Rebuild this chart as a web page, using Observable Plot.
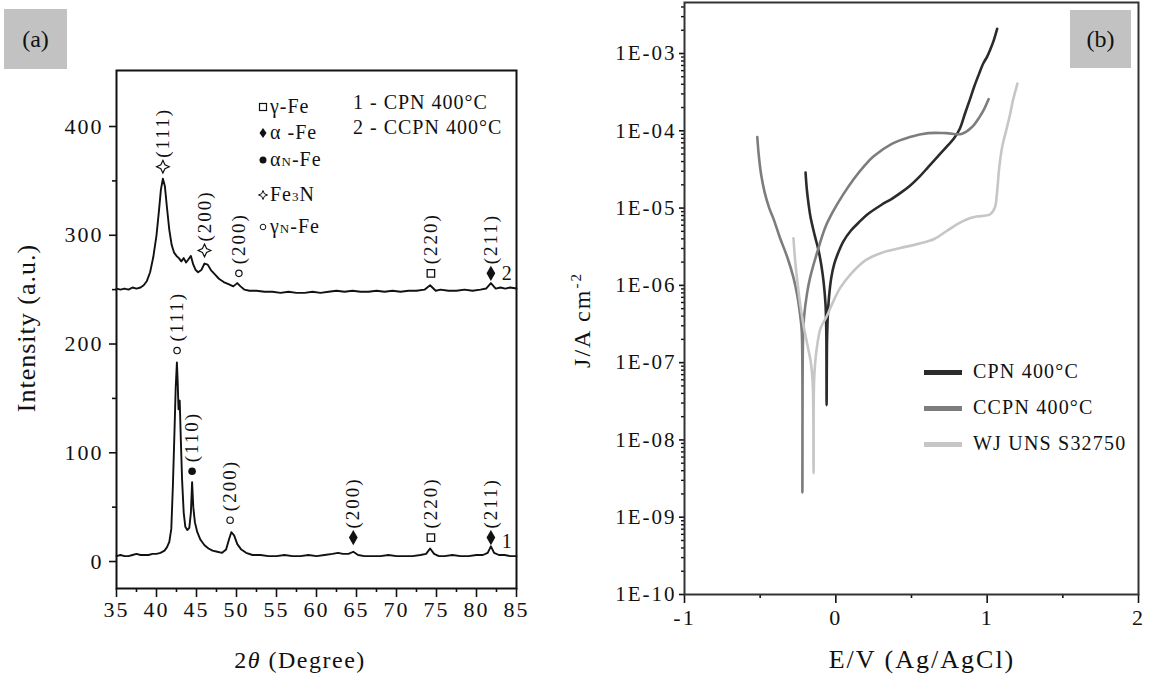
<!DOCTYPE html>
<html><head><meta charset="utf-8">
<script src="https://cdn.jsdelivr.net/npm/d3@7"></script>
<script src="https://cdn.jsdelivr.net/npm/@observablehq/plot@0.6"></script>
<style>
body{margin:0;background:#fff;width:1154px;height:676px;overflow:hidden;position:relative;font-family:"Liberation Serif","DejaVu Serif",serif;color:#111}
.abs{position:absolute;white-space:nowrap}
svg text{letter-spacing:2px}
.box{position:absolute;background:#c2c2c2;font-size:24px;display:flex;align-items:center;justify-content:center}
.rot{transform:translate(-50%,-50%) rotate(-90deg)}
.ctr{transform:translate(-50%,-50%)}
.leg{position:absolute;font-size:20px;line-height:20px;letter-spacing:1px;white-space:nowrap}
.sw{position:absolute;height:5px;width:38px}
</style></head><body>
<div id="a" class="abs" style="left:0;top:0"></div>
<div id="b" class="abs" style="left:540px;top:0"></div>
<script>
// ---------- Panel (a): XRD ----------
const theta2 = [35,35.5,36,36.5,37,37.5,38,38.4,38.8,39.2,39.6,40.0,40.3,40.55,40.8,41.05,41.3,41.6,41.9,42.2,42.5,42.8,43.1,43.4,43.7,44.0,44.3,44.6,44.9,45.2,45.6,46.0,46.4,46.8,47.3,47.8,48.4,49.0,49.6,50.1,50.5,51.0,51.6,52.5,53.5,54.5,55.5,56.5,57.5,58.5,59.5,60.5,61.5,62.5,63.5,64.5,65.5,66.5,67.5,68.5,69.5,70.5,71.5,72.5,73.5,74.2,74.9,75.5,76.5,77.5,78.5,79.5,80.5,81.2,81.8,82.4,83,83.6,84.2,85];
const intensityCCPN = [251,250,251,250,252,251,252,254,258,266,280,300,322,342,352,345,326,305,291,284,281,279,276,279,275,278,281,273,268,266,268,274,273,268,264,260,257,255,253,256,253,250,249,249,248,248,247,248,247,247,248,247,248,249,248,249,248,248,249,248,249,248,249,249,250,254,249,250,249,249,250,249,250,251,256,251,252,251,252,251];
const theta1 = [35,35.5,36,36.5,37,37.5,38,38.5,39,39.5,40,40.5,41,41.3,41.6,41.85,42.05,42.25,42.4,42.55,42.65,42.75,42.9,43.05,43.2,43.4,43.6,43.85,44.1,44.3,44.45,44.6,44.8,45.1,45.5,46,46.5,47,47.6,48.2,48.7,49.05,49.35,49.7,50.1,50.6,51.2,52,53,54,55,56,57,58,59,60,61,62,62.7,63.3,64,64.6,65.2,66,67,68,69,70,71,72,73,73.7,74.2,74.7,75.3,76,77,78,79,80,80.8,81.4,81.8,82.2,82.8,83.5,84.2,85];
const intensityCPN = [5,6,5,5,6,7,6,6,6,7,7,8,10,13,18,30,70,120,160,183,165,140,148,110,75,45,32,29,31,45,73,50,36,27,20,15,12,10,9,8,11,20,27,24,16,11,8,6,6,5,5,6,5,5,6,5,6,7,8,7,7,9,6,5,5,5,6,5,5,5,6,7,12,7,5,5,6,5,5,6,6,8,14,8,6,6,5,5];

const peakTheta = [40.8, 46.0, 50.3, 74.3, 81.8, 42.57, 44.45, 49.2, 64.6, 74.3, 81.8];
const peakY     = [363, 286, 265, 265, 265, 194, 83, 38, 22, 22, 22];
const peakHkl   = ["(111)","(200)","(200)","(220)","(211)","(111)","(110)","(200)","(200)","(220)","(211)"];
const peakPhase = ["Fe3N","Fe3N","γN-Fe","γ-Fe","α-Fe","γN-Fe","αN-Fe","γN-Fe","α-Fe","γ-Fe","α-Fe"];

const curveTag = ["2","1"];
const curveTagTheta = [83.9, 83.9];
const curveTagY = [265, 18];

const xTicksA = [35,40,45,50,55,60,65,70,75,80,85];
const xMinorA = [37.5,42.5,47.5,52.5,57.5,62.5,67.5,72.5,77.5,82.5];
const yTicksA = [0,100,200,300,400];
const yMinorA = [50,150,250,350];

// ---------- Panel (b): polarization ----------
const potCPN = [-0.2,-0.192,-0.18,-0.167,-0.14,-0.114,-0.095,-0.08,-0.068,-0.063,-0.061,-0.058,-0.052,-0.045,-0.03,-0.01,0.011,0.05,0.1,0.15,0.21,0.3,0.37,0.43,0.49,0.55,0.61,0.67,0.73,0.78,0.82,0.853,0.885,0.914,0.945,0.974,1.0,1.02,1.04,1.066];
const logJCPN = [-4.54,-4.75,-4.95,-5.12,-5.35,-5.55,-5.75,-5.97,-6.25,-6.6,-7.55,-6.7,-6.35,-6.15,-5.9,-5.72,-5.6,-5.43,-5.29,-5.19,-5.08,-4.96,-4.88,-4.8,-4.71,-4.6,-4.47,-4.34,-4.21,-4.1,-3.97,-3.78,-3.6,-3.43,-3.27,-3.13,-3.04,-2.95,-2.85,-2.68];
const potCCPN = [-0.519,-0.51,-0.495,-0.47,-0.44,-0.41,-0.37,-0.32,-0.28,-0.253,-0.235,-0.225,-0.221,-0.217,-0.21,-0.19,-0.17,-0.12,-0.07,-0.02,0.05,0.12,0.19,0.25,0.37,0.49,0.61,0.73,0.83,0.9,0.95,0.98,1.01];
const logJCCPN = [-4.08,-4.3,-4.55,-4.8,-5.0,-5.15,-5.38,-5.64,-5.9,-6.15,-6.4,-6.6,-8.68,-6.7,-6.41,-6.1,-5.9,-5.55,-5.25,-5.05,-4.82,-4.62,-4.45,-4.33,-4.17,-4.08,-4.03,-4.03,-4.04,-3.95,-3.82,-3.72,-3.59];
const potWJ = [-0.28,-0.268,-0.253,-0.235,-0.215,-0.19,-0.165,-0.152,-0.147,-0.143,-0.125,-0.1,-0.06,-0.02,0.03,0.1,0.2,0.3,0.42,0.55,0.65,0.73,0.8,0.86,0.93,0.98,1.02,1.05,1.065,1.08,1.1,1.12,1.15,1.17,1.2];
const logJWJ = [-5.39,-5.7,-5.97,-6.25,-6.5,-6.75,-7.0,-7.3,-8.43,-7.2,-6.8,-6.55,-6.4,-6.22,-6.03,-5.85,-5.67,-5.58,-5.52,-5.46,-5.4,-5.3,-5.21,-5.15,-5.11,-5.1,-5.08,-5.0,-4.8,-4.47,-4.2,-4.04,-3.8,-3.61,-3.39];

const seriesNames = ["CPN 400°C","CCPN 400°C","WJ UNS S32750"];
const seriesColors = ["#2b2b2b","#7d7d7d","#c6c6c6"];

const xTicksB = [-1,0,1,2];
const xTickLabelsB = ["-1","0","1","2"];
const xMinorB = [-0.5,0.5,1.5];
const yTicksB = [1e-10,1e-9,1e-8,1e-7,1e-6,1e-5,1e-4,1e-3];
const yTickLabelsB = ["1E-10","1E-09","1E-08","1E-07","1E-06","1E-05","1E-04","1E-03"];

const FONT = "'Liberation Serif', 'DejaVu Serif', serif";

// ---------- build panel (a) ----------
const xrd = [
  ...theta2.map((t,i)=>({t, v:intensityCCPN[i], s:"2"})),
  ...theta1.map((t,i)=>({t, v:intensityCPN[i], s:"1"}))
];
const peaks = peakTheta.map((t,i)=>({t, y:peakY[i], hkl:peakHkl[i], phase:peakPhase[i]}));
const tags = curveTag.map((s,i)=>({s, t:curveTagTheta[i], y:curveTagY[i]}));
const star4 = {draw(ctx, size){const r=Math.sqrt(size)*0.72, k=r*0.32;
  ctx.moveTo(0,-r);ctx.lineTo(k,-k);ctx.lineTo(r,0);ctx.lineTo(k,k);ctx.lineTo(0,r);ctx.lineTo(-k,k);ctx.lineTo(-r,0);ctx.lineTo(-k,-k);ctx.closePath();}};
const ink = "#111";
const byPhase = p => peaks.filter(d=>d.phase===p);

const plotA = Plot.plot({
  width: 580, height: 676,
  marginLeft: 116, marginRight: 64, marginTop: 70, marginBottom: 88,
  x: {domain:[35,85], axis:null},
  y: {domain:[-24.8,451.5], axis:null},
  style: {fontFamily:FONT, color:ink, background:"transparent", overflow:"visible"},
  marks: [
    Plot.axisX({ticks:xTicksA, tickSize:9, tickPadding:4, fontSize:22, label:null, strokeWidth:1.6}),
    Plot.axisX({ticks:xMinorA, tickSize:4, text:null, label:null, strokeWidth:1.6}),
    Plot.axisY({ticks:yTicksA, tickSize:7, tickPadding:6, fontSize:22, label:null, strokeWidth:1.6}),
    Plot.axisY({ticks:yMinorA, tickSize:4, text:null, label:null, strokeWidth:1.6}),
    Plot.line(xrd, {x:"t", y:"v", z:"s", stroke:ink, strokeWidth:1.9, curve:"linear"}),
    Plot.dot(byPhase("γ-Fe"), {x:"t", y:"y", symbol:"square", r:4.2, stroke:ink, fill:"white", strokeWidth:1.3}),
    Plot.dot(byPhase("α-Fe"), {x:"t", y:"y", symbol:"diamond", r:4.6, fill:ink, stroke:"none"}),
    Plot.dot(byPhase("αN-Fe"), {x:"t", y:"y", symbol:"circle", r:3.8, fill:ink, stroke:"none"}),
    Plot.dot(byPhase("γN-Fe"), {x:"t", y:"y", symbol:"circle", r:3.2, fill:"white", stroke:ink, strokeWidth:1.2}),
    Plot.dot(byPhase("Fe3N"), {x:"t", y:"y", symbol:star4, r:5, fill:"white", stroke:ink, strokeWidth:1.2}),
    Plot.text(peaks, {x:"t", y:"y", text:"hkl", rotate:-90, textAnchor:"start", lineAnchor:"middle", dy:-9, fontSize:19, fill:ink}),
    Plot.text(tags, {x:"t", y:"y", text:"s", fontSize:20, fill:ink}),
    Plot.frame({stroke:ink, strokeWidth:2})
  ]
});
document.getElementById("a").append(plotA);

// ---------- build panel (b) ----------
const pol = [
  ...potCPN.map((e,i)=>({e, j:Math.pow(10, logJCPN[i]), s:seriesNames[0]})),
  ...potCCPN.map((e,i)=>({e, j:Math.pow(10, logJCCPN[i]), s:seriesNames[1]})),
  ...potWJ.map((e,i)=>({e, j:Math.pow(10, logJWJ[i]), s:seriesNames[2]}))
];
const yMinorB = [];
for (const d of yTicksB.slice(0,-1)) for (let m=2;m<=9;m++) yMinorB.push(d*m);
for (let m=2;m<=4;m++) yMinorB.push(1e-3*m);

const plotB = Plot.plot({
  width: 614, height: 676,
  marginLeft: 144, marginRight: 16, marginTop: 2, marginBottom: 82,
  x: {domain:[-1,2], axis:null},
  y: {type:"log", domain:[1e-10, Math.pow(10,-2.34)], axis:null},
  color: {domain: seriesNames, range: seriesColors},
  style: {fontFamily:FONT, color:ink, background:"transparent", overflow:"visible"},
  marks: [
    Plot.axisY({ticks:yTicksB, tickFormat:d=>yTickLabelsB[yTicksB.findIndex(v=>Math.abs(Math.log10(v)-Math.log10(d))<1e-6)], tickSize:5, tickPadding:3, fontSize:21, label:null, strokeWidth:1.6}),
    Plot.axisY({ticks:yMinorB, tickSize:3, text:null, label:null, strokeWidth:1.4}),
    Plot.axisX({ticks:xTicksB, tickFormat:d=>xTickLabelsB[xTicksB.indexOf(d)], tickSize:9, tickPadding:6, fontSize:22, label:null, strokeWidth:1.6}),
    Plot.axisX({ticks:xMinorB, tickSize:4, text:null, label:null, strokeWidth:1.6}),
    Plot.line(pol, {x:"e", y:"j", z:"s", stroke:"s", strokeWidth:2.6, curve:"catmull-rom"}),
    Plot.frame({stroke:"#333", strokeWidth:2})
  ]
});
document.getElementById("b").append(plotB);

// ---------- overlays: panel tags, axis titles, legends ----------
const body = document.body;
function add(html){ body.insertAdjacentHTML("beforeend", html); }
add(`<div class="box" style="left:4px;top:9px;width:63px;height:60px">(a)</div>`);
add(`<div class="box" style="left:1070px;top:10px;width:61px;height:58px">(b)</div>`);
add(`<div class="abs rot" style="left:27px;top:328px;font-size:26px;letter-spacing:1px">Intensity (a.u.)</div>`);
add(`<div class="abs ctr" style="left:300px;top:660px;font-size:24px;letter-spacing:1.5px">2<i>θ</i> (Degree)</div>`);
add(`<div class="abs rot" style="left:582px;top:320px;font-size:24px;letter-spacing:2px">J/A cm<sup style="font-size:15px">-2</sup></div>`);
add(`<div class="abs ctr" style="left:922px;top:660px;font-size:26px;letter-spacing:2px">E/V (Ag/AgCl)</div>`);

// legend (a)
const legPhase = ["γ-Fe","α-Fe","αN-Fe","Fe3N","γN-Fe"];
const legHtml = ["γ-Fe","α -Fe","α<span style='font-size:13px'>N</span>-Fe","Fe<span style='font-size:13px'>3</span>N","γ<span style='font-size:13px'>N</span>-Fe"];
const legRowY = [107,133,160,195,227];
const legSym = [
  `<rect x="1.5" y="1.5" width="7" height="7" fill="white" stroke="${ink}" stroke-width="1.2"/>`,
  `<path d="M5,0 L8.5,5 L5,10 L1.5,5Z" fill="${ink}"/>`,
  `<circle cx="5" cy="5" r="3.5" fill="${ink}"/>`,
  `<path d="M5,0.5 L6.3,3.7 L9.5,5 L6.3,6.3 L5,9.5 L3.7,6.3 L0.5,5 L3.7,3.7Z" fill="white" stroke="${ink}" stroke-width="1"/>`,
  `<circle cx="5" cy="5" r="2.8" fill="white" stroke="${ink}" stroke-width="1"/>`
];
legPhase.forEach((p,i)=>{
  add(`<svg class="abs" style="left:258px;top:${legRowY[i]-5}px" width="10" height="10">${legSym[i]}</svg>`);
  add(`<div class="leg" style="left:270px;top:${legRowY[i]-11}px">${legHtml[i]}</div>`);
});
const sampleLeg = ["1 - CPN 400°C","2 - CCPN 400°C"];
[103,128].forEach((y,i)=> add(`<div class="leg" style="left:353px;top:${y-11}px">${sampleLeg[i]}</div>`));

// legend (b)
const legBY = [372,408,444];
seriesNames.forEach((n,i)=>{
  add(`<div class="sw" style="left:924px;top:${legBY[i]-2.5}px;background:${seriesColors[i]}"></div>`);
  add(`<div class="leg" style="left:973px;top:${legBY[i]-11}px;letter-spacing:1.2px">${n}</div>`);
});
</script>
</body></html>
